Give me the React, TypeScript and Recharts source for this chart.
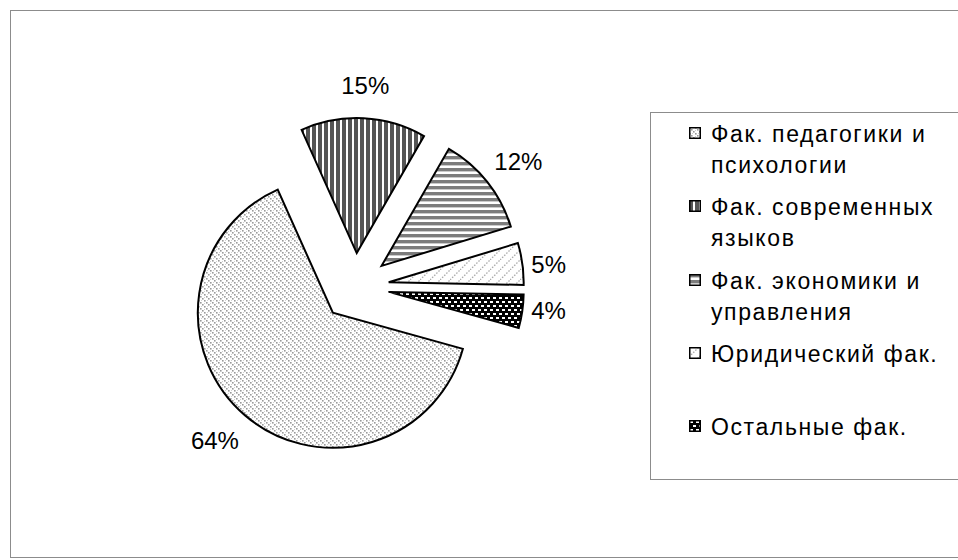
import React from 'react';
import { PieChart, Pie, Cell, Legend, Sector, Tooltip } from 'recharts';

// ---- data ----
const faculties = [
  'Фак. педагогики и психологии',
  'Фак. современных языков',
  'Фак. экономики и управления',
  'Юридический фак.',
  'Остальные фак.',
];
const shares = [64, 15, 12, 5, 4];
const patternIds = ['pPed', 'pLang', 'pEcon', 'pLaw', 'pOther'];

const data = faculties.map((name, i) => ({ name, value: shares[i] }));

// ---- layout ----
const W = 958;
const H = 560;
const CX = 355;
const CY = 287;
const R = 135;
const EXPLODE = 34;
const LABEL_R = 202;
const LABEL_R_SIDE = 178;
const RAD = Math.PI / 180;
const FONT = '"Liberation Sans", Arial, Helvetica, sans-serif';

function ExplodedSector(props: any) {
  const { cx, cy, startAngle, endAngle } = props;
  const mid = (startAngle + endAngle) / 2;
  const dx = EXPLODE * Math.cos(mid * RAD);
  const dy = -EXPLODE * Math.sin(mid * RAD);
  return <Sector {...props} cx={cx + dx} cy={cy + dy} />;
}

function renderLabel(props: any) {
  const { cx, cy, midAngle, value } = props;
  const c = Math.cos(midAngle * RAD);
  const s = Math.sin(midAngle * RAD);
  const side = Math.abs(c) > 0.2;
  const anchor = !side ? 'middle' : c > 0 ? 'start' : 'end';
  const x = cx + (side ? LABEL_R_SIDE : LABEL_R) * c;
  const y = cy - (Math.abs(s) < 0.2 ? LABEL_R * 0.8 : LABEL_R) * s;
  return (
    <text
      x={x}
      y={y}
      textAnchor={anchor}
      dominantBaseline="central"
      fontFamily={FONT}
      fontSize={24}
      fill="#000"
    >
      {`${value}%`}
    </text>
  );
}

function LegendBox(props: any) {
  const payload: any[] = props.payload || [];
  const ordered = faculties.map(
    (name, i) => payload.find((p: any) => p.value === name) || { value: name, color: `url(#${patternIds[i]})` }
  );
  return (
    <div
      style={{
        width: 330,
        height: 368,
        boxSizing: 'border-box',
        border: '1px solid #8c8c8c',
        paddingTop: 6,
        fontFamily: FONT,
        fontSize: 23,
        letterSpacing: 1.6,
        color: '#000',
        textAlign: 'left',
      }}
    >
      {ordered.map((entry: any, i: number) => (
        <div key={i} style={{ position: 'relative', height: 73.3, paddingLeft: 60 }}>
          <svg width={12} height={12} style={{ position: 'absolute', left: 38, top: 8 }}>
            <rect
              x={0.75}
              y={0.75}
              width={10.5}
              height={10.5}
              fill={entry.color || `url(#${patternIds[i]})`}
              stroke="#000"
              strokeWidth={1.5}
            />
          </svg>
          <div style={{ width: 250, lineHeight: '31px' }}>{entry.value}</div>
        </div>
      ))}
    </div>
  );
}

function Patterns() {
  return (
    <svg width={0} height={0} style={{ position: 'absolute' }}>
      <defs>
        <pattern id="pPed" patternUnits="userSpaceOnUse" width={6} height={6}>
          <rect width={6} height={6} fill="#fff" />
          <rect x={0} y={0} width={1.6} height={1.6} fill="#9a9a9a" />
          <rect x={2} y={2} width={1.6} height={1.6} fill="#9a9a9a" />
          <rect x={4} y={4} width={1.6} height={1.6} fill="#9a9a9a" />
          <rect x={3} y={0} width={1} height={1} fill="#cfcfcf" />
          <rect x={0} y={3} width={1} height={1} fill="#cfcfcf" />
        </pattern>
        <pattern id="pLang" patternUnits="userSpaceOnUse" width={6} height={6}>
          <rect width={6} height={6} fill="#fff" />
          <rect x={0} y={0} width={4} height={6} fill="#555" />
        </pattern>
        <pattern id="pEcon" patternUnits="userSpaceOnUse" width={6} height={6}>
          <rect width={6} height={6} fill="#fff" />
          <rect x={0} y={0} width={6} height={3.4} fill="#7c7c7c" />
        </pattern>
        <pattern id="pLaw" patternUnits="userSpaceOnUse" width={10} height={10}>
          <rect width={10} height={10} fill="#fff" />
          <path d="M0 10 L10 0" stroke="#aaa" strokeWidth={1.3} strokeDasharray="1.5 1.5" />
        </pattern>
        <pattern id="pOther" patternUnits="userSpaceOnUse" width={6} height={8}>
          <rect width={6} height={8} fill="#000" />
          <rect x={1} y={1} width={3} height={2} fill="#fff" />
          <rect x={4} y={5} width={3} height={2} fill="#fff" />
          <rect x={-2} y={5} width={3} height={2} fill="#fff" />
        </pattern>
      </defs>
    </svg>
  );
}

export default function App() {
  return (
    <div
      style={{
        position: 'absolute',
        left: 0,
        top: 0,
        width: W,
        height: H,
        overflow: 'hidden',
        background: '#fff',
      }}
    >
      <Patterns />
      <div
        style={{
          position: 'absolute',
          left: 10,
          top: 10,
          width: 1000,
          height: 548,
          border: '1px solid #8c8c8c',
          boxSizing: 'border-box',
        }}
      />
      <div style={{ position: 'absolute', left: 0, top: 0 }}>
        <PieChart width={W} height={H} margin={{ top: 0, right: 0, bottom: 0, left: 0 }}>
          <Pie
            data={data}
            dataKey="value"
            nameKey="name"
            cx={CX}
            cy={CY}
            outerRadius={R}
            startAngle={-15.5}
            endAngle={-375.5}
            stroke="#000"
            strokeWidth={2}
            strokeLinejoin="miter"
            label={renderLabel}
            labelLine={false}
            isAnimationActive={false}
            shape={ExplodedSector as any}
            activeShape={ExplodedSector as any}
            inactiveShape={ExplodedSector as any}
          >
            {data.map((d, i) => (
              <Cell key={d.name} fill={`url(#${patternIds[i]})`} />
            ))}
          </Pie>
          <Tooltip defaultIndex={0} content={() => null} cursor={false} isAnimationActive={false} />
          <Legend
            layout="vertical"
            align="right"
            verticalAlign="top"
            content={LegendBox}
            wrapperStyle={{ position: 'absolute', left: 650, top: 112, width: 330, height: 368 }}
          />
        </PieChart>
      </div>
    </div>
  );
}
